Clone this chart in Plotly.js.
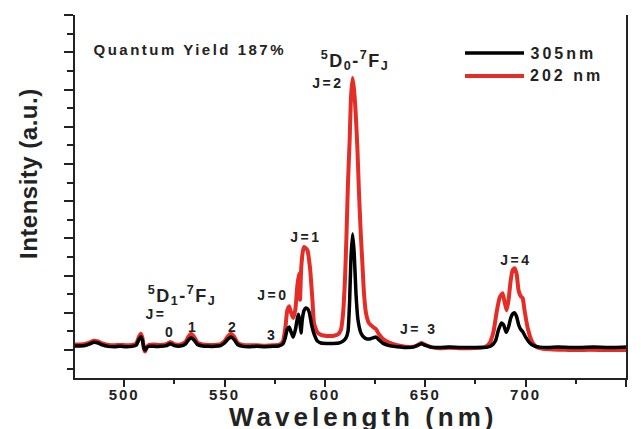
<!DOCTYPE html>
<html>
<head>
<meta charset="utf-8">
<script src="https://cdn.plot.ly/plotly-3.0.1.min.js"></script>
<style>
  html, body { margin: 0; padding: 0; background: #fff; }
  #chart { width: 641px; height: 429px; }
  .xtick text { letter-spacing: 2px; }
  .annotation[data-index="0"] text { letter-spacing: 0.5px; }
  .annotation[data-index="1"] text { letter-spacing: 4px; }
  .annotation[data-index="2"] text { letter-spacing: 2.5px; }
  .annotation[data-index="3"] text, .annotation[data-index="9"] text { letter-spacing: 1.5px; }
  .annotation[data-index="4"] text, .annotation[data-index="5"] text,
  .annotation[data-index="6"] text, .annotation[data-index="7"] text,
  .annotation[data-index="8"] text, .annotation[data-index="10"] text { letter-spacing: 2.5px; }
  .annotation[data-index="15"] text, .annotation[data-index="16"] text { letter-spacing: 3px; }
</style>
</head>
<body>
<div id="chart"></div>
<script>
// ---- Data ----
const seriesNames = ["305nm", "202 nm"];

const wavelength305 = [475.5, 478, 481, 483, 485, 487, 489, 492, 495, 498, 501, 504, 506, 507.3, 508.3, 509.2, 509.8, 510.4, 511.3, 512.5, 515, 518, 521, 523, 525, 528, 530.5, 532, 533.3, 534.8, 536.5, 539, 542, 545, 548, 550, 551.8, 553.2, 554.8, 556.5, 559, 562, 566, 570, 574, 577, 579, 580.2, 581.2, 582.2, 583.2, 584.2, 585.3, 586.3, 586.9, 587.6, 588.1, 588.7, 589.5, 590.5, 591.5, 592.3, 593.3, 594.5, 596.3, 598, 601, 604, 607, 609, 610.5, 611.5, 612.3, 613, 613.8, 614.6, 615.5, 616.5, 618, 619.5, 621, 622.5, 624, 625.5, 627, 629, 632, 636, 640, 644, 646, 648, 650, 653, 657, 662, 667, 672, 677, 681, 683, 685, 686.5, 688, 689, 690.3, 691.5, 692.5, 693.5, 694.5, 695.5, 696.5, 697.5, 698.5, 700, 702, 704, 707, 711, 716, 722, 728, 734, 740, 745, 750];
const intensity305 = [0.11, 0.11, 0.13, 0.17, 0.21, 0.19, 0.14, 0.10, 0.09, 0.10, 0.09, 0.10, 0.13, 0.28, 0.36, 0.24, 0.06, 0.00, 0.07, 0.10, 0.10, 0.10, 0.12, 0.17, 0.12, 0.11, 0.16, 0.27, 0.33, 0.27, 0.15, 0.11, 0.10, 0.10, 0.12, 0.19, 0.30, 0.35, 0.28, 0.15, 0.10, 0.09, 0.10, 0.09, 0.10, 0.11, 0.16, 0.32, 0.55, 0.62, 0.48, 0.35, 0.55, 0.86, 0.96, 0.72, 0.46, 0.80, 1.05, 1.13, 1.10, 1.00, 0.70, 0.45, 0.24, 0.19, 0.18, 0.18, 0.19, 0.24, 0.33, 0.50, 1.30, 2.50, 3.12, 2.60, 1.50, 0.80, 0.45, 0.34, 0.30, 0.30, 0.33, 0.35, 0.27, 0.18, 0.12, 0.09, 0.07, 0.08, 0.12, 0.17, 0.13, 0.08, 0.07, 0.08, 0.07, 0.07, 0.07, 0.08, 0.12, 0.25, 0.55, 0.73, 0.68, 0.48, 0.62, 0.85, 0.97, 1.00, 0.90, 0.68, 0.56, 0.50, 0.35, 0.20, 0.12, 0.08, 0.07, 0.08, 0.07, 0.07, 0.08, 0.07, 0.07, 0.08];

const wavelength202 = [475.5, 478, 481, 483, 485, 487, 489, 492, 495, 498, 501, 504, 506, 507.3, 508.3, 509.2, 509.8, 510.4, 511.3, 512.5, 515, 518, 521, 523, 525, 528, 530.5, 532, 533.3, 534.8, 536.5, 539, 542, 545, 548, 550, 551.8, 553.2, 554.8, 556.5, 559, 562, 566, 570, 574, 577, 579, 580.3, 581.2, 582.2, 583.2, 584.2, 585.3, 586.2, 587.0, 587.6, 588.2, 589.0, 589.6, 590.5, 591.3, 592.6, 593.8, 594.6, 596.3, 598, 601, 604, 606.5, 608, 609, 610, 610.7, 611.5, 612.3, 613, 613.8, 614.5, 615.3, 616.2, 617, 617.8, 618.7, 619.5, 620.5, 622, 624, 625.5, 627, 629, 632, 636, 640, 643, 646, 648, 650, 653, 657, 662, 667, 672, 677, 680, 682, 684, 685.5, 687, 688.5, 689.5, 690.5, 691.5, 692.5, 693.5, 694.5, 695.5, 696.5, 697.5, 698.5, 699.5, 701, 703, 705, 708, 712, 718, 725, 732, 740, 746, 750];
const intensity202 = [0.15, 0.15, 0.17, 0.21, 0.25, 0.23, 0.18, 0.14, 0.13, 0.14, 0.13, 0.14, 0.18, 0.35, 0.44, 0.30, 0.05, -0.04, 0.08, 0.14, 0.15, 0.14, 0.16, 0.22, 0.16, 0.15, 0.22, 0.36, 0.44, 0.36, 0.20, 0.15, 0.14, 0.14, 0.16, 0.24, 0.38, 0.44, 0.36, 0.20, 0.14, 0.13, 0.13, 0.12, 0.13, 0.14, 0.22, 0.60, 1.05, 1.18, 1.00, 0.86, 1.10, 1.70, 2.05, 1.35, 2.20, 2.65, 2.77, 2.74, 2.68, 2.20, 1.34, 0.72, 0.47, 0.41, 0.38, 0.38, 0.42, 0.55, 0.95, 1.90, 3.00, 4.50, 5.60, 6.80, 7.31, 7.00, 6.40, 5.40, 4.20, 3.20, 2.30, 1.50, 0.98, 0.72, 0.62, 0.56, 0.42, 0.30, 0.20, 0.13, 0.09, 0.08, 0.13, 0.19, 0.14, 0.08, 0.05, 0.06, 0.05, 0.05, 0.06, 0.09, 0.18, 0.50, 1.00, 1.40, 1.53, 1.30, 1.07, 1.35, 1.85, 2.15, 2.20, 2.05, 1.60, 1.45, 1.40, 1.05, 0.60, 0.25, 0.10, 0.04, 0.02, 0.01, 0.00, 0.01, 0.00, 0.00, 0.00];

const xTickValues = [500, 550, 600, 650, 700, 750];
const xTickLabels = ["500", "550", "600", "650", "700", "750"];

// ---- Chart ----
const FONT = "'Liberation Sans', Arial, Helvetica, sans-serif";
const RED = "#e52d27";

const traces = [
  { x: wavelength202, y: intensity202, name: seriesNames[1], type: "scatter", mode: "lines",
    line: { color: RED, width: 4, shape: "spline", smoothing: 0.5 }, hoverinfo: "x+y" },
  { x: wavelength305, y: intensity305, name: seriesNames[0], type: "scatter", mode: "lines",
    line: { color: "#000000", width: 3.5, shape: "spline", smoothing: 0.5 }, hoverinfo: "x+y" }
];

function ann(text, x, y, size, opts) {
  return Object.assign({
    text: text, x: x, y: y, xref: "paper", yref: "paper", showarrow: false,
    xanchor: "center", yanchor: "middle",
    font: { family: FONT, size: size, color: "#222", weight: "bold" }
  }, opts || {});
}

const annotations = [
  ann("Intensity (a.u.)", -0.0853, 0.5647, 24, { textangle: -90 }),
  ann("Wavelength (nm)", 0.5227, -0.1074, 26),
  ann("Quantum Yield 187%", 0.2096, 0.9063, 15),
  ann("<sup>5</sup>D<sub>0</sub>-<sup>7</sup>F<sub>J</sub>", 0.508, 0.876, 18),
  ann("J=2", 0.46, 0.8127, 14),
  ann("J=1", 0.4192, 0.3884, 14),
  ann("J=0", 0.3593, 0.2287, 14),
  ann("J=4", 0.8004, 0.3251, 14),
  ann("J= 3", 0.6243, 0.135, 14),
  ann("<sup>5</sup>D<sub>1</sub>-<sup>7</sup>F<sub>J</sub>", 0.1942, 0.2259, 18),
  ann("J=", 0.147, 0.1763, 14),
  ann("0", 0.1706, 0.1267, 14),
  ann("1", 0.2123, 0.1405, 14),
  ann("2", 0.2849, 0.1405, 14),
  ann("3", 0.3557, 0.1185, 14),
  ann(seriesNames[0], 0.8866, 0.8953, 16),
  ann(seriesNames[1], 0.8929, 0.832, 16)
];

const shapes = [
  { type: "line", xref: "paper", yref: "paper", x0: 0.7078, x1: 0.8149, y0: 0.8953, y1: 0.8953,
    line: { color: "#000", width: 3.5 } },
  { type: "line", xref: "paper", yref: "paper", x0: 0.7078, x1: 0.8149, y0: 0.832, y1: 0.832,
    line: { color: RED, width: 4 } }
];

const layout = {
  width: 641, height: 429,
  margin: { l: 75, r: 15, t: 15, b: 51, pad: 0 },
  paper_bgcolor: "#fff", plot_bgcolor: "#fff",
  showlegend: false,
  font: { family: FONT, color: "#222" },
  xaxis: {
    range: [475.5, 750], showgrid: false, zeroline: false,
    showline: true, linecolor: "#222", linewidth: 2, mirror: false,
    ticks: "outside", ticklen: 7, tickwidth: 2, tickcolor: "#222",
    tickvals: xTickValues, ticktext: xTickLabels, ticklabelstandoff: -5,
    tickfont: { family: FONT, size: 15, color: "#222", weight: "bold" },
    minor: { ticks: "outside", tickmode: "array", tickvals: [525, 575, 625, 675, 725], ticklen: 4, tickwidth: 2, tickcolor: "#222" }
  },
  yaxis: {
    range: [-0.75, 9.005], showgrid: false, zeroline: false,
    showline: true, linecolor: "#222", linewidth: 2, mirror: true,
    ticks: "outside", ticklen: 9, tickwidth: 2, tickcolor: "#222",
    tickmode: "linear", tick0: 0, dtick: 1, showticklabels: false,
    minor: { ticks: "outside", dtick: 0.5, ticklen: 6, tickwidth: 2, tickcolor: "#222" }
  },
  annotations: annotations,
  shapes: shapes
};

Plotly.newPlot("chart", traces, layout, { displayModeBar: false, staticPlot: true });
</script>
</body>
</html>
